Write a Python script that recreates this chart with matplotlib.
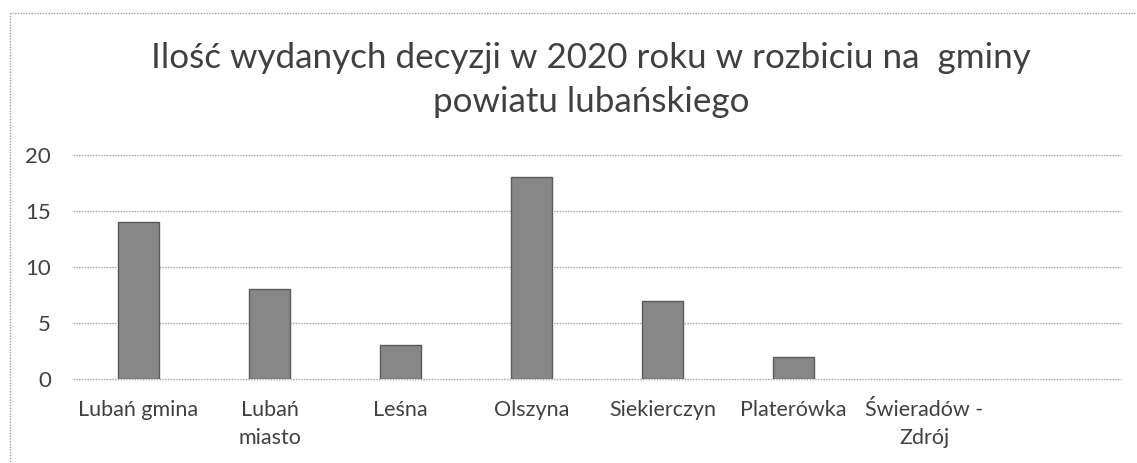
import matplotlib
matplotlib.use('Agg')
import matplotlib.pyplot as plt
from matplotlib.patches import Rectangle

# data
gminy = ['Lubań gmina', 'Lubań\nmiasto', 'Leśna', 'Olszyna',
         'Siekierczyn', 'Platerówka', 'Świeradów -\nZdrój']
decyzje = [14, 8, 3, 18, 7, 2, 0]
y_ticks = [0, 5, 10, 15, 20]
title = 'Ilość wydanych decyzji w 2020 roku w rozbiciu na  gminy\npowiatu lubańskiego'

plt.rcParams['font.family'] = ['Lato', 'DejaVu Sans']
text_color = '#404040'

fig = plt.figure(figsize=(11.37, 4.63), dpi=100)
ax = fig.add_axes([73/1137, 1 - 379/463, 1048/1137, 224/463])

x = list(range(len(gminy)))
# an empty value gets no bar at all (as in the original)
bx = [i for i, v in zip(x, decyzje) if v > 0]
bv = [v for v in decyzje if v > 0]
ax.bar(bx, bv, width=0.31, color='#878787', edgecolor='#5a5a5a',
       linewidth=1, zorder=3)

ax.set_xlim(-0.5, len(gminy) + 0.5)
ax.set_ylim(0, 20)
ax.set_yticks(y_ticks)
ax.set_xticks(x)
ax.set_xticklabels(gminy, fontsize=15.5, color=text_color, linespacing=1.5)
ax.tick_params(axis='x', length=0, pad=15)
ax.tick_params(axis='y', length=0, pad=16, labelsize=16, labelcolor=text_color)

ax.yaxis.grid(True, color='#a0a0a0', linestyle=(0, (1, 1)), linewidth=1, zorder=0)
for gl in ax.get_ygridlines():
    gl.set_clip_on(False)
for s in ax.spines.values():
    s.set_visible(False)
ax.set_axisbelow(True)

fig.text(0.52, 1 - 80/463, title, ha='center', va='center', fontsize=25.2,
         color=text_color, linespacing=1.45)

# dotted frame of the chart area (runs off the scan at right/bottom)
frame = Rectangle((10/1137, -0.1), 1.2, 1 - 13/463 + 0.1, transform=fig.transFigure,
                  fill=False, edgecolor='#a0a0a0', linestyle=(0, (1, 1)),
                  linewidth=1, clip_on=False)
fig.patches.append(frame)

fig.savefig('out.png', dpi=100)
